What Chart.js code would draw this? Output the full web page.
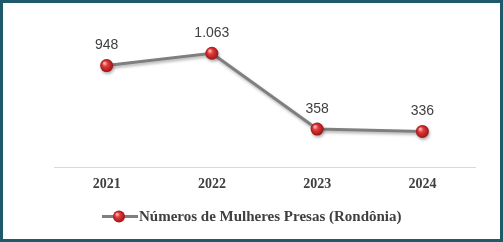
<!DOCTYPE html>
<html>
<head>
<meta charset="utf-8">
<script src="https://cdn.jsdelivr.net/npm/chart.js@4/dist/chart.umd.min.js"></script>
<style>
  html, body { margin: 0; padding: 0; background: #fff; }
  #frame {
    width: 503px; height: 242px; box-sizing: border-box;
    border: 3px solid #1f5a6a; background: #fff;
  }
  #frame canvas { display: block; }
</style>
</head>
<body>
<div id="frame"><canvas id="presasChart" width="497" height="236"></canvas></div>
<script>
// data
const years = ["2021", "2022", "2023", "2024"];
const mulheresPresas = [948, 1063, 358, 336];
const seriesLabel = "Números de Mulheres Presas (Rondônia)";

const textGray = "#404040";
const lineGray = "#7f7f7f";

// red "glass ball" marker
function sphereFill(ctx, x, y, r) {
    const g = ctx.createRadialGradient(x - r * 0.35, y - r * 0.4, r * 0.1, x, y, r);
    g.addColorStop(0, "#ffb0b0");
    g.addColorStop(0.35, "#e23a3a");
    g.addColorStop(1, "#9c1414");
    return g;
}

const valueLabels = {
    id: "valueLabels",
    afterDatasetsDraw(chart) {
        const ctx = chart.ctx;
        const meta = chart.getDatasetMeta(0);
        ctx.save();
        ctx.font = "14px 'Liberation Sans', Arial, sans-serif";
        ctx.fillStyle = textGray;
        ctx.textAlign = "center";
        ctx.textBaseline = "middle";
        meta.data.forEach(function (pt, i) {
            const txt = mulheresPresas[i].toLocaleString("pt-BR");
            ctx.fillText(txt, pt.x, pt.y - 20);
        });
        ctx.restore();
    }
};

const lineShadow = {
    id: "lineShadow",
    beforeDatasetDraw(chart) {
        const ctx = chart.ctx;
        ctx.save();
        ctx.shadowColor = "rgba(0,0,0,0.3)";
        ctx.shadowBlur = 3;
        ctx.shadowOffsetX = 1;
        ctx.shadowOffsetY = 2;
    },
    afterDatasetDraw(chart) {
        chart.ctx.restore();
    }
};

// legend drawn by hand so it sits where the original one does
const customLegend = {
    id: "customLegend",
    afterDraw(chart) {
        const ctx = chart.ctx;
        const y = 213.5;
        ctx.save();
        ctx.strokeStyle = lineGray;
        ctx.lineWidth = 3;
        ctx.beginPath();
        ctx.moveTo(99, y);
        ctx.lineTo(135, y);
        ctx.stroke();
        ctx.fillStyle = sphereFill(ctx, 116, y, 6);
        ctx.beginPath();
        ctx.arc(116, y, 6, 0, Math.PI * 2);
        ctx.fill();
        ctx.font = "bold 15px 'Liberation Serif', 'Times New Roman', serif";
        ctx.fillStyle = textGray;
        ctx.textAlign = "left";
        ctx.textBaseline = "middle";
        ctx.fillText(seriesLabel, 136, y + 1);
        ctx.restore();
    }
};

new Chart(document.getElementById("presasChart"), {
    type: "line",
    data: {
        labels: years,
        datasets: [{
            label: seriesLabel,
            data: mulheresPresas,
            borderColor: lineGray,
            borderWidth: 3,
            tension: 0,
            fill: false,
            pointRadius: 6.5,
            pointBorderWidth: 0,
            pointBackgroundColor: function (c) {
                const el = c.element;
                if (!el || el.x === undefined) return "#d32f2f";
                return sphereFill(c.chart.ctx, el.x, el.y, 6.5);
            }
        }]
    },
    options: {
        responsive: false,
        animation: false,
        layout: { padding: { left: 51, right: 25, top: 35.5, bottom: 38.6 } },
        plugins: {
            legend: { display: false },
            tooltip: { enabled: false }
        },
        scales: {
            x: {
                offset: true,
                grid: { display: false, drawTicks: false },
                border: { display: true, color: "#d9d9d9", width: 1 },
                ticks: {
                    padding: 8,
                    color: textGray,
                    font: { family: "'Liberation Serif', 'Times New Roman', serif", size: 14, weight: "bold" }
                }
            },
            y: {
                display: false,
                min: 0,
                max: 1200
            }
        }
    },
    plugins: [lineShadow, valueLabels, customLegend]
});
</script>
</body>
</html>
